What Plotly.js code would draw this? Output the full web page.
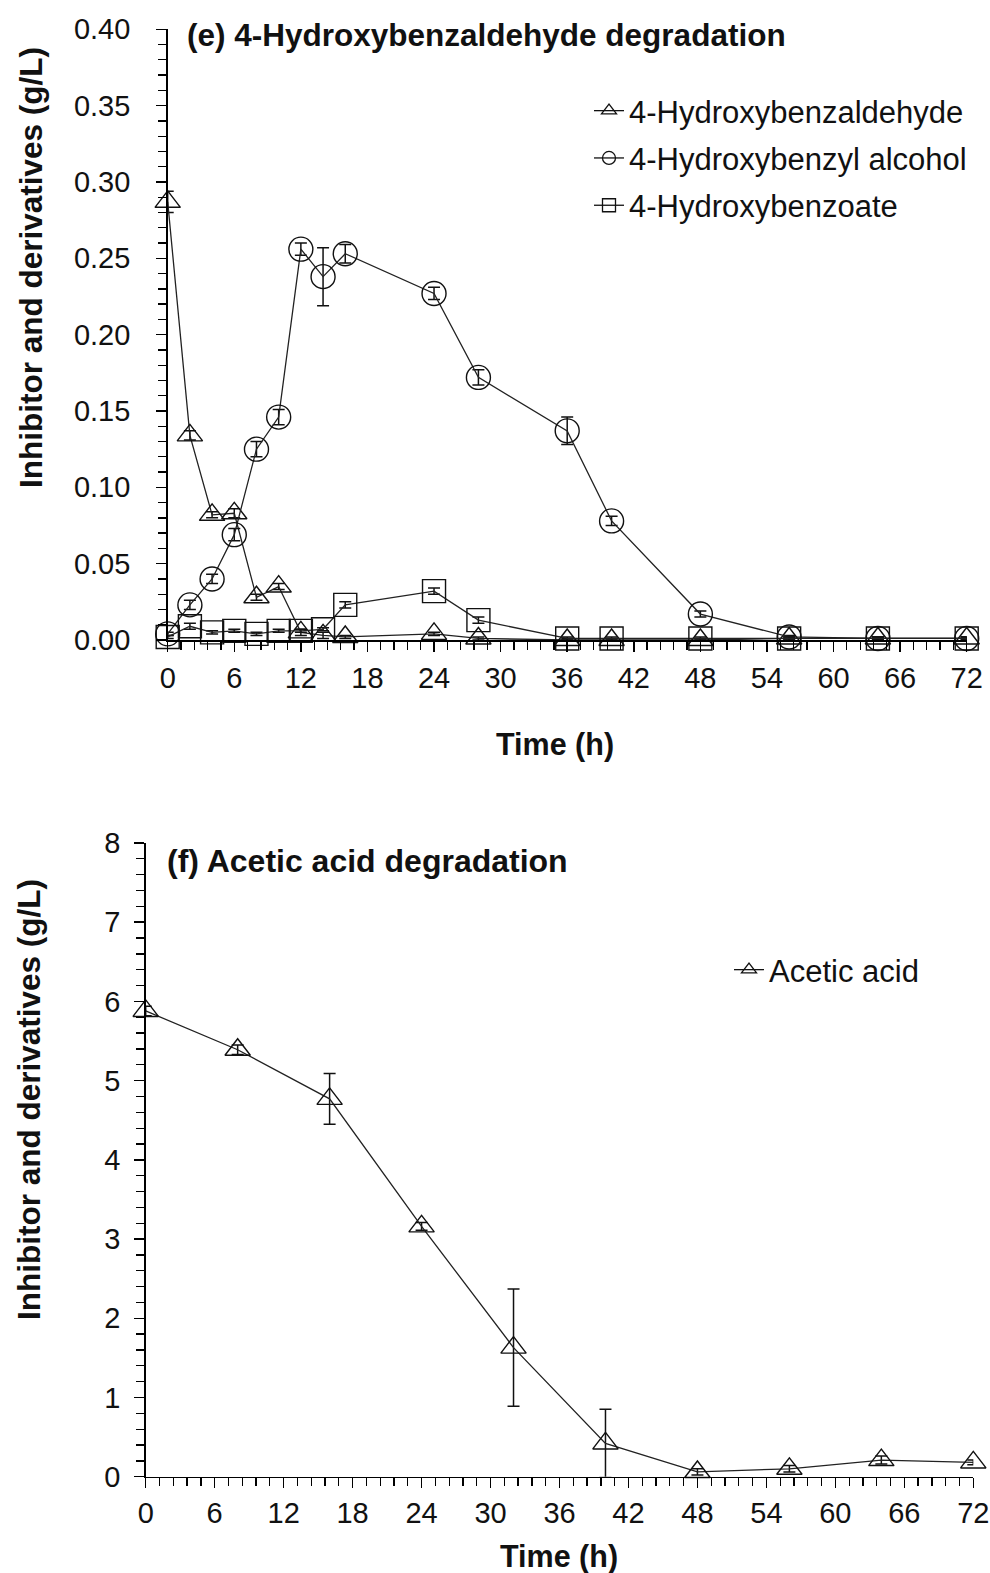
<!DOCTYPE html>
<html>
<head>
<meta charset="utf-8">
<script src="https://cdn.plot.ly/plotly-3.0.1.min.js"></script>
<style>html,body{margin:0;padding:0;background:#fff;}#chart{width:990px;height:1573px;}</style>
</head>
<body>
<div id="chart"></div>
<script>
// ---- Panel (e) data ----
const timeE = [0, 2, 4, 6, 8, 10, 12, 14, 16, 24, 28, 36, 40, 48, 56, 64, 72];
const hbAldehyde    = [0.287, 0.134, 0.082, 0.083, 0.028, 0.035, 0.005, 0.003, 0.002, 0.004, 0.001, 0.000, 0.000, 0.000, 0.001, 0.001, 0.001];
const hbAldehydeErr = [0.007, 0.003, 0.002, 0.003, 0.002, 0.002, 0.002, 0.002, 0.001, 0.001, 0.001, 0.001, 0.001, 0.001, 0.001, 0.001, 0.001];
const hbAlcohol     = [0.004, 0.023, 0.040, 0.069, 0.125, 0.146, 0.256, 0.238, 0.253, 0.227, 0.172, 0.137, 0.078, 0.017, 0.002, 0.001, 0.001];
const hbAlcoholErr  = [0.001, 0.003, 0.003, 0.004, 0.005, 0.005, 0.004, 0.019, 0.006, 0.004, 0.005, 0.009, 0.003, 0.002, 0.001, 0.001, 0.001];
const hbBenzoate    = [0.002, 0.009, 0.005, 0.006, 0.004, 0.006, 0.006, 0.007, 0.023, 0.032, 0.013, 0.001, 0.001, 0.001, 0.001, 0.001, 0.001];
const hbBenzoateErr = [0.001, 0.002, 0.001, 0.001, 0.001, 0.001, 0.001, 0.001, 0.002, 0.002, 0.002, 0.001, 0.001, 0.001, 0.001, 0.001, 0.001];

// ---- Panel (f) data ----
const timeF = [0, 8, 16, 24, 32, 40, 48, 56, 64, 72];
const aceticAcid    = [5.88, 5.39, 4.77, 3.16, 1.63, 0.42, 0.06, 0.10, 0.21, 0.18];
const aceticAcidErr = [0.06, 0.06, 0.32, 0.05, 0.74, 0.43, 0.04, 0.04, 0.05, 0.03];

const seriesNames = ['4-Hydroxybenzaldehyde', '4-Hydroxybenzyl alcohol', '4-Hydroxybenzoate', 'Acetic acid'];
const yTitle = 'Inhibitor and derivatives (g/L)';
const xTitle = 'Time (h)';
const titleE = '(e) 4-Hydroxybenzaldehyde degradation';
const titleF = '(f) Acetic acid degradation';

const W = 990, H = 1573;
const px = v => v / W;
const py = v => 1 - v / H;
const FONT = 'Liberation Sans, Arial, sans-serif';
const INK = '#111';

function trace(x, y, err, name, symbol, size, xa, ya) {
  return {
    type: 'scatter', mode: 'lines+markers', x: x, y: y, name: name,
    xaxis: xa, yaxis: ya, showlegend: false,
    cliponaxis: false,
    line: {color: '#222', width: 1.3},
    marker: {symbol: symbol, size: size, color: '#111', line: {color: '#111', width: 1.4}},
    error_y: {type: 'data', array: err, visible: true, color: '#111', thickness: 1.5, width: 6}
  };
}
// legend-only entries (no data points)
function legendEntry(name, symbol, size, xa, ya, legend, grp) {
  return {
    type: 'scatter', mode: 'lines+markers', x: [null], y: [null], name: name,
    xaxis: xa, yaxis: ya, legend: legend, legendgroup: grp, showlegend: true,
    line: {color: '#111', width: 1.3},
    marker: {symbol: symbol, size: size, color: '#111', line: {color: '#111', width: 1.3}}
  };
}

const data = [
  trace(timeE, hbAldehyde, hbAldehydeErr, seriesNames[0], 'triangle-up-open', 22, 'x', 'y'),
  trace(timeE, hbAlcohol, hbAlcoholErr, seriesNames[1], 'circle-open', 24, 'x', 'y'),
  trace(timeE, hbBenzoate, hbBenzoateErr, seriesNames[2], 'square-open', 23, 'x', 'y'),
  trace(timeF, aceticAcid, aceticAcidErr, seriesNames[3], 'triangle-up-open', 22, 'x2', 'y2'),
  legendEntry(seriesNames[0], 'triangle-up-open', 13, 'x', 'y', 'legend', 'a'),
  legendEntry(seriesNames[1], 'circle-open', 13, 'x', 'y', 'legend', 'b'),
  legendEntry(seriesNames[2], 'square-open', 13, 'x', 'y', 'legend', 'c'),
  legendEntry(seriesNames[3], 'triangle-up-open', 13, 'x2', 'y2', 'legend2', 'd')
];

const axisCommon = {
  showline: true, linecolor: '#000', linewidth: 1.5, showgrid: false, zeroline: false,
  ticks: 'outside', ticklen: 10, tickwidth: 1.5, tickcolor: '#000',
  tickfont: {family: FONT, size: 29, color: INK},
  mirror: false, fixedrange: true
};

const layout = {
  width: W, height: H,
  margin: {l: 0, r: 0, t: 0, b: 0},
  paper_bgcolor: '#fff', plot_bgcolor: 'rgba(0,0,0,0)',
  showlegend: true,
  xaxis: Object.assign({}, axisCommon, {
    domain: [px(167.7), px(966.7)], range: [0, 72], anchor: 'y',
    tickmode: 'linear', tick0: 0, dtick: 6, ticklabelstandoff: 2,
    minor: {tick0: 0, dtick: 1.2, ticks: 'outside', ticklen: 8, tickwidth: 1.3, tickcolor: '#000', showgrid: false}
  }),
  yaxis: Object.assign({}, axisCommon, {
    domain: [py(640), py(29.3)], range: [0, 0.4], anchor: 'x',
    tickmode: 'linear', tick0: 0, dtick: 0.05, tickformat: '.2f', ticklabelstandoff: 20,
    minor: {tick0: 0, dtick: 0.01, ticks: 'outside', ticklen: 8, tickwidth: 1.3, tickcolor: '#000', showgrid: false}
  }),
  xaxis2: Object.assign({}, axisCommon, {
    domain: [px(145.7), px(973.3)], range: [0, 72], anchor: 'y2',
    tickmode: 'linear', tick0: 0, dtick: 6, ticklabelstandoff: 0,
    minor: {tick0: 0, dtick: 1.2, ticks: 'outside', ticklen: 8, tickwidth: 1.3, tickcolor: '#000', showgrid: false}
  }),
  yaxis2: Object.assign({}, axisCommon, {
    domain: [py(1476.7), py(843)], range: [0, 8], anchor: 'x2',
    tickmode: 'linear', tick0: 0, dtick: 1, ticklabelstandoff: 8,
    minor: {tick0: 0, dtick: 0.2, ticks: 'outside', ticklen: 8, tickwidth: 1.3, tickcolor: '#000', showgrid: false}
  }),
  legend: {
    x: px(589), y: py(84), xanchor: 'left', yanchor: 'top',
    bgcolor: 'rgba(0,0,0,0)', borderwidth: 0,
    font: {family: FONT, size: 31, color: INK},
    traceorder: 'grouped', tracegroupgap: 4
  },
  legend2: {
    x: px(729), y: py(943), xanchor: 'left', yanchor: 'top',
    bgcolor: 'rgba(0,0,0,0)', borderwidth: 0,
    font: {family: FONT, size: 31, color: INK}
  },
  annotations: [
    {text: titleE, xref: 'paper', yref: 'paper', x: px(185), y: py(35), xanchor: 'left', yanchor: 'middle', showarrow: false,
     font: {family: FONT, size: 31.5, color: INK, weight: 'bold'}},
    {text: titleF, xref: 'paper', yref: 'paper', x: px(165), y: py(861), xanchor: 'left', yanchor: 'middle', showarrow: false,
     font: {family: FONT, size: 32, color: INK, weight: 'bold'}},
    {text: xTitle, xref: 'paper', yref: 'paper', x: px(555), y: py(745), xanchor: 'center', yanchor: 'middle', showarrow: false,
     font: {family: FONT, size: 30.5, color: INK, weight: 'bold'}},
    {text: xTitle, xref: 'paper', yref: 'paper', x: px(559), y: py(1556), xanchor: 'center', yanchor: 'middle', showarrow: false,
     font: {family: FONT, size: 30.5, color: INK, weight: 'bold'}},
    {text: yTitle, xref: 'paper', yref: 'paper', x: px(31), y: py(268), xanchor: 'center', yanchor: 'middle', textangle: -90, showarrow: false,
     font: {family: FONT, size: 31.5, color: INK, weight: 'bold'}},
    {text: yTitle, xref: 'paper', yref: 'paper', x: px(29), y: py(1100), xanchor: 'center', yanchor: 'middle', textangle: -90, showarrow: false,
     font: {family: FONT, size: 31.5, color: INK, weight: 'bold'}}
  ]
};

Plotly.newPlot('chart', data, layout, {displayModeBar: false, staticPlot: true});
</script>
</body>
</html>
